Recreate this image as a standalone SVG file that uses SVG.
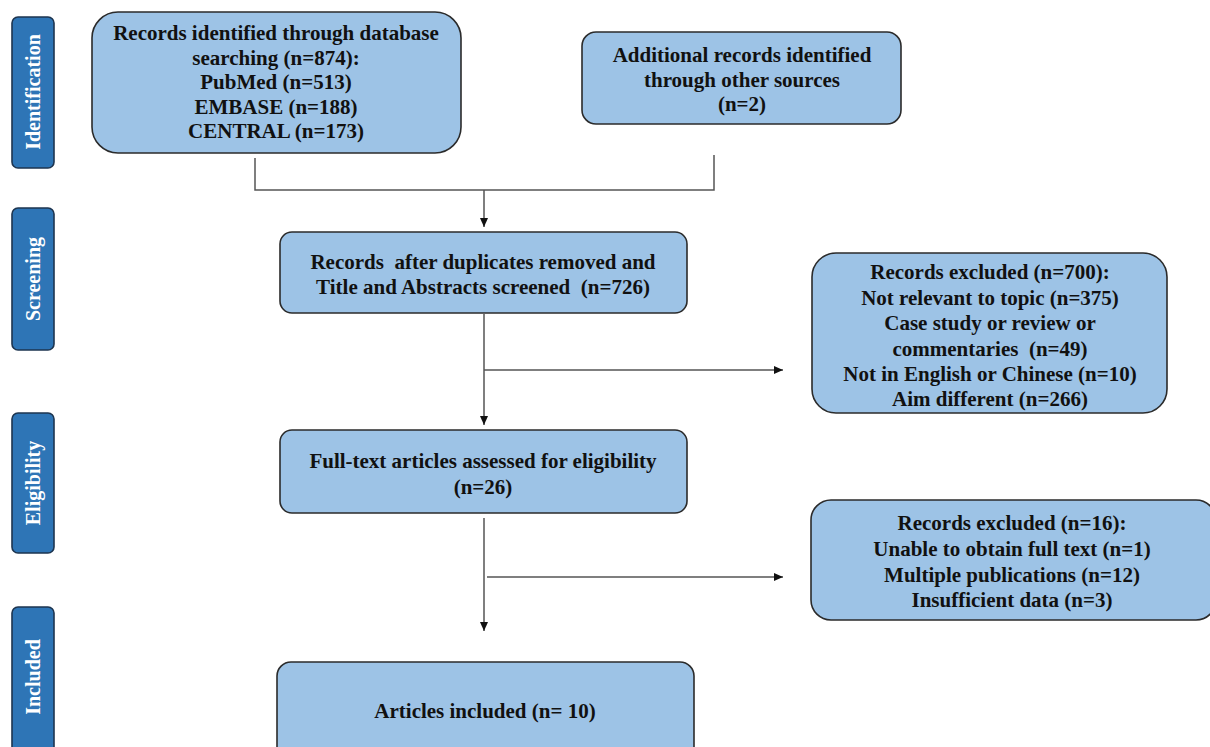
<svg xmlns="http://www.w3.org/2000/svg" width="1210" height="747" viewBox="0 0 1210 747">
<defs>
<style>
.box{fill:#9DC3E6;stroke:#2b2b2b;stroke-width:1.6}
.side{fill:#2E75B6;stroke:#1d3550;stroke-width:1.6}
.t{font-family:"Liberation Serif","Times New Roman",serif;font-weight:bold;font-size:21px;fill:#111;text-anchor:middle;dominant-baseline:central;white-space:pre}
.st{font-family:"Liberation Serif","Times New Roman",serif;font-weight:bold;font-size:20px;fill:#fff;text-anchor:middle;dominant-baseline:central}
.c{fill:none;stroke:#555;stroke-width:1.5}
</style>
<marker id="ah" markerWidth="10" markerHeight="10" refX="9" refY="5" orient="auto" markerUnits="userSpaceOnUse">
<path d="M0,1 L9,5 L0,9 Z" fill="#111"/>
</marker>
</defs>
<rect width="1210" height="747" fill="#fff"/>

<g id="side-identification">
<rect class="side" x="12" y="17" width="42" height="151" rx="6"/>
<text class="st" transform="translate(33,92) rotate(-90)">Identification</text>
</g>
<g id="side-screening">
<rect class="side" x="12" y="208" width="42" height="142" rx="6"/>
<text class="st" transform="translate(33,279) rotate(-90)">Screening</text>
</g>
<g id="side-eligibility">
<rect class="side" x="12" y="413" width="42" height="140" rx="6"/>
<text class="st" transform="translate(33,483) rotate(-90)">Eligibility</text>
</g>
<g id="side-included">
<rect class="side" x="12" y="607" width="42" height="150" rx="6"/>
<text class="st" transform="translate(33,677) rotate(-90)">Included</text>
</g>

<g id="connectors">
<path class="c" d="M255,158 V190 H714 V155"/>
<path class="c" d="M484,190 V227" marker-end="url(#ah)"/>
<path class="c" d="M484,314 V425" marker-end="url(#ah)"/>
<path class="c" d="M484,370 H783" marker-end="url(#ah)"/>
<path class="c" d="M484,518 V631" marker-end="url(#ah)"/>
<path class="c" d="M487,577 H783" marker-end="url(#ah)"/>
</g>

<g id="n-identified">
<rect class="box" x="92" y="12" width="369" height="141" rx="26"/>
<text class="t" x="276" y="33">Records identified through database</text>
<text class="t" x="276" y="58">searching (n=874):</text>
<text class="t" x="276" y="82">PubMed (n=513)</text>
<text class="t" x="276" y="107">EMBASE (n=188)</text>
<text class="t" x="276" y="131">CENTRAL (n=173)</text>
</g>
<g id="n-additional">
<rect class="box" x="582" y="32" width="319" height="92" rx="14"/>
<text class="t" x="742" y="55">Additional records identified</text>
<text class="t" x="742" y="80">through other sources</text>
<text class="t" x="742" y="104">(n=2)</text>
</g>
<g id="n-screened">
<rect class="box" x="280" y="232" width="407" height="81" rx="12"/>
<text class="t" x="483" y="262" xml:space="preserve">Records  after duplicates removed and</text>
<text class="t" x="483" y="287" xml:space="preserve">Title and Abstracts screened  (n=726)</text>
</g>
<g id="n-excluded1">
<rect class="box" x="812" y="253" width="355" height="160" rx="24"/>
<text class="t" x="990" y="272">Records excluded (n=700):</text>
<text class="t" x="990" y="298">Not relevant to topic (n=375)</text>
<text class="t" x="990" y="323">Case study or review or</text>
<text class="t" x="990" y="349" xml:space="preserve">commentaries  (n=49)</text>
<text class="t" x="990" y="374">Not in English or Chinese (n=10)</text>
<text class="t" x="990" y="399">Aim different (n=266)</text>
</g>
<g id="n-fulltext">
<rect class="box" x="280" y="430" width="407" height="83" rx="12"/>
<text class="t" x="483" y="461">Full-text articles assessed for eligibility</text>
<text class="t" x="483" y="487">(n=26)</text>
</g>
<g id="n-excluded2">
<rect class="box" x="811" y="500" width="405" height="120" rx="20"/>
<text class="t" x="1012" y="523">Records excluded (n=16):</text>
<text class="t" x="1012" y="549">Unable to obtain full text (n=1)</text>
<text class="t" x="1012" y="575">Multiple publications (n=12)</text>
<text class="t" x="1012" y="600">Insufficient data (n=3)</text>
</g>
<g id="n-included">
<rect class="box" x="277" y="662" width="417" height="100" rx="14"/>
<text class="t" x="485" y="711">Articles included (n= 10)</text>
</g>
</svg>
